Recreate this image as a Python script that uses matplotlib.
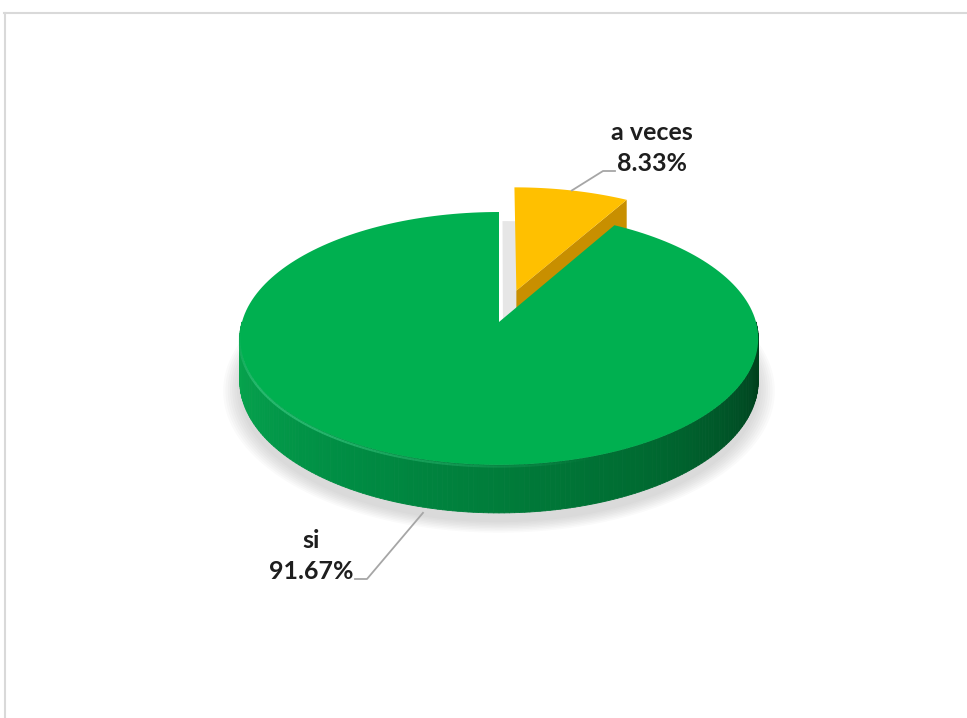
import numpy as np
import matplotlib.pyplot as plt
from matplotlib.collections import PolyCollection, LineCollection
from matplotlib.colors import LinearSegmentedColormap, to_rgba
from matplotlib.patches import Polygon

# datos de la encuesta
categorias = ['a veces', 'si']
porcentajes = [8.33, 91.67]
colores = ['#FFC000', '#00B050']
colores_corte = ['#C88F00', '#00803A']
separado = [0.27, 0.0]

# geometria del pastel 3D (proyeccion con algo de perspectiva)
CX, CY = 499, 322
A, B = 257, 124.3
K = 0.13
D = 41.8


def proj(X, Y, z=0.0):
    s = 1 + K * Y
    return CX + A * X / s, CY - B * Y / s + D * z / s


def arco(th1, th2, ox, oy, z, n=200):
    t = np.radians(np.linspace(th1, th2, n))
    return [proj(ox + np.cos(a), oy + np.sin(a), z) for a in t]


plt.rcParams['font.family'] = ['Lato', 'DejaVu Sans']
fig = plt.figure(figsize=(9.67, 7.18), dpi=100)
ax = fig.add_axes([0, 0, 1, 1])
ax.set_xlim(0, 967)
ax.set_ylim(718, 0)
ax.axis('off')

# marco del grafico
ax.plot([4, 967], [13, 13], color='#d9d9d9', lw=1.5)
ax.plot([5, 5], [13, 718], color='#d9d9d9', lw=1.5)

# angulos de cada porcion (sentido horario desde arriba)
angulos = []
ini = 90.0
for p in porcentajes:
    fin = ini - p / 100 * 360
    angulos.append((ini, fin))
    ini = fin

# sombra suave bajo el pastel
for i, esc in enumerate(np.linspace(1.0, 1.06, 8)):
    t = np.radians(np.linspace(150, 390, 200))
    pts = [proj(esc * np.cos(a), esc * np.sin(a) - 0.02, 1.12) for a in t]
    pts += [proj(0, 0, 1.0)]
    ax.add_patch(Polygon(pts, closed=True, fc='#8c8c8c', ec='none', alpha=0.045, zorder=1))

# sombra en el hueco de la porcion separada
th1, th2 = angulos[0]
med = np.radians((th1 + th2) / 2)
ox, oy = 0.06 * np.cos(med), 0.06 * np.sin(med)
pts = [proj(ox, oy, 0.4)] + arco(th1, th2, ox, oy, 0.4)
ax.add_patch(Polygon(pts, closed=True, fc='#e6e6e6', ec='none', zorder=2))

# degradado de la pared lateral
cmap_lado = LinearSegmentedColormap.from_list('lado', [
    (0.0, '#0aa84f'), (0.17, '#039b4a'), (0.33, '#008c43'), (0.5, '#007c3a'),
    (0.67, '#006a31'), (0.83, '#005126'), (0.94, '#003f1c'), (1.0, '#00441e')])

for i, (th1, th2) in enumerate(angulos):
    med = np.radians((th1 + th2) / 2)
    ox, oy = separado[i] * np.cos(med), separado[i] * np.sin(med)
    z0 = 3 + 2 * i

    # cara de corte visible (borde final de la porcion)
    a = np.radians(th2)
    if np.cos(a) > 0 and np.sin(a) > 0:
        cara = [proj(ox, oy, 0), proj(ox + np.cos(a), oy + np.sin(a), 0),
                proj(ox + np.cos(a), oy + np.sin(a), 1), proj(ox, oy, 1)]
        ax.add_patch(Polygon(cara, closed=True, fc=colores_corte[i], ec='none', zorder=z0))

    # pared exterior frontal
    paso = 1.0
    lo, hi = min(th1, th2), max(th1, th2)
    polys, cols = [], []
    for base in (-360, 0):
        a0, a1 = max(lo, base + 180), min(hi, base + 360)
        if a1 <= a0:
            continue
        for t in np.arange(a0, a1, paso):
            t2 = min(t + paso, a1)
            r1, r2 = np.radians(t), np.radians(t2)
            q = [proj(ox + np.cos(r1), oy + np.sin(r1), 0),
                 proj(ox + np.cos(r2), oy + np.sin(r2), 0),
                 proj(ox + np.cos(r2), oy + np.sin(r2), 1),
                 proj(ox + np.cos(r1), oy + np.sin(r1), 1)]
            polys.append(q)
            cols.append(cmap_lado((t - base - 180) / 180))
    if polys:
        ax.add_collection(PolyCollection(polys, facecolors=cols, edgecolors=cols,
                                         linewidths=0.6, zorder=z0))

    # cara superior
    sup = [proj(ox, oy, 0)] + arco(th1, th2, ox, oy, 0)
    ax.add_patch(Polygon(sup, closed=True, fc=colores[i], ec='none', zorder=z0 + 1))

    # brillo del bisel en el borde frontal, se desvanece en los extremos
    if polys:
        b = np.array(arco(max(lo, -178), min(hi, -70), ox, oy - 0.01, 0, n=160))
        segs = np.stack([b[:-1], b[1:]], axis=1)
        f = np.linspace(0, 1, len(segs))
        alfa = np.clip(np.minimum(f / 0.25, (1 - f) / 0.55), 0, 1) * 0.6
        c = [to_rgba('#40d088', al) for al in alfa]
        ax.add_collection(LineCollection(segs, colors=c, linewidths=1.6, zorder=z0 + 1.5))

# etiquetas con lineas guia
pos_texto = [(652, 148), (311, 556)]
codo = [((603, 171), (615, 171)), ((367, 579), (355, 579))]
for i, (th1, th2) in enumerate(angulos):
    med = np.radians((th1 + th2) / 2)
    ox, oy = separado[i] * np.cos(med), separado[i] * np.sin(med)
    z = 1.12 if np.sin(med) < 0 else 0
    x0, y0 = proj(ox + np.cos(med), oy + np.sin(med), z)
    (x1, y1), (x2, y2) = codo[i]
    ax.plot([x0, x1, x2], [y0, y1, y2], color='#a6a6a6', lw=1.3, zorder=20)
    ax.text(pos_texto[i][0], pos_texto[i][1], f'{categorias[i]}\n{porcentajes[i]:.2f}%',
            ha='center', va='center', multialignment='center', fontsize=18,
            fontweight='bold', color='#1e1e1e', linespacing=1.38, zorder=21)

fig.savefig('out.png', dpi=100)
